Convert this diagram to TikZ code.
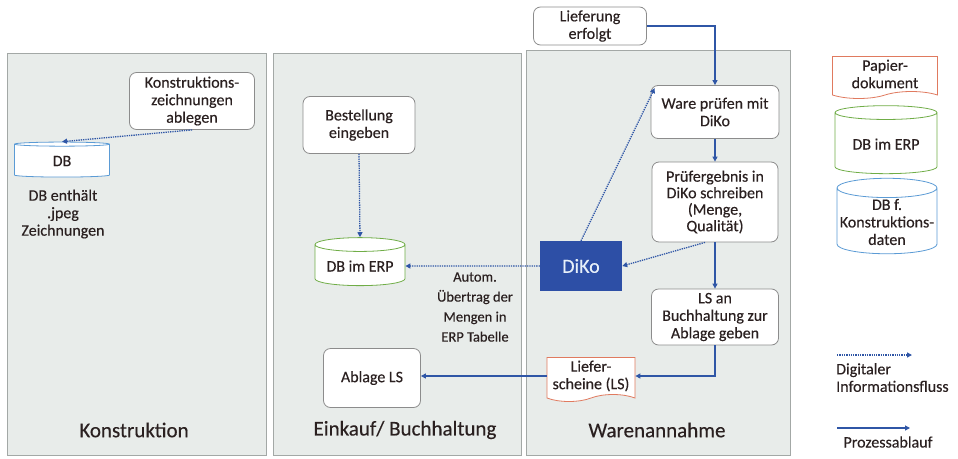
\documentclass[tikz,border=0pt]{standalone}
\usepackage{fontspec}
\setmainfont{Carlito}[FakeBold=0.3]
\usetikzlibrary{shapes.geometric,shapes.symbols,arrows.meta}
\definecolor{txt}{HTML}{2A2020}
\definecolor{flow}{HTML}{2F56A6}
\definecolor{dikoblue}{HTML}{2D4FA6}
\definecolor{panelfill}{HTML}{E8ECEA}
\definecolor{panelline}{HTML}{A3A8A6}
\definecolor{boxline}{HTML}{8C8C8C}
\definecolor{dbblue}{HTML}{5B9BD5}
\definecolor{dbgreen}{HTML}{70AD47}
\definecolor{paperred}{HTML}{E07A5F}
\begin{document}
\begin{tikzpicture}[x=1pt,y=-1pt,
    every node/.style={text=txt,font=\fontsize{16}{17.5}\selectfont},
    panel/.style={fill=panelfill,draw=panelline,line width=0.8pt},
    panellabel/.style={font=\fontsize{21}{23}\selectfont},
    box/.style={draw=boxline,fill=white,rounded corners=7pt,align=center,inner sep=2pt,line width=0.8pt},
    db/.style={cylinder,shape border rotate=90,aspect=0.2,fill=white,align=center,inner sep=1pt,line width=0.8pt},
    paper/.style={tape,tape bend top=none,tape bend height=7pt,draw=paperred,fill=white,align=center,inner sep=1pt,line width=0.8pt},
    process/.style={draw=flow,line width=1.1pt,-{Triangle[width=5pt,length=5pt]}},
    digital/.style={draw=flow,line width=1.3pt,densely dotted,-{Triangle[width=5pt,length=5pt]}}]
    \useasboundingbox (0,0) rectangle (958,458);

    % Spalten
    \draw[panel] (7,53) rectangle (266,455);
    \draw[panel] (273,53) rectangle (521,455);
    \draw[panel] (526,50) rectangle (790,455);
    \node[panellabel] (lkon) at (134,430) {Konstruktion};
    \node[panellabel] (lein) at (405,430) {Einkauf/ Buchhaltung};
    \node[panellabel] (lwar) at (657,430) {Warenannahme};

    % Konstruktion
    \node[box,minimum width=125pt,minimum height=57pt] (konst) at (192,101) {Konstruktions-\\zeichnungen\\ablegen};
    \node[db,draw=dbblue,minimum width=95pt,minimum height=35pt] (dbk) at (62,161) {DB};
    \node[align=center] (dbtxt) at (63,214) {DB enthält\\.jpeg\\Zeichnungen};

    % Einkauf / Buchhaltung
    \node[box,minimum width=112pt,minimum height=57pt] (best) at (359,125) {Bestellung\\eingeben};
    \node[db,draw=dbgreen,minimum width=90pt,minimum height=48pt] (erp) at (360,266) {DB im ERP};
    \node[align=center,font=\fontsize{14.5}{20}\selectfont] (autom) at (475,307) {Autom.\\Übertrag der\\Mengen in\\ERP Tabelle};
    \node[box,minimum width=97pt,minimum height=59pt] (ablage) at (372,378) {Ablage LS};

    % Warenannahme
    \node[box,minimum width=113pt,minimum height=38pt] (lief) at (590,26) {Lieferung\\erfolgt};
    \node[box,minimum width=128pt,minimum height=53pt] (ware) at (715,112) {Ware prüfen mit\\DiKo};
    \node[box,minimum width=126pt,minimum height=80pt,font=\fontsize{16}{16.5}\selectfont] (pruef) at (715,202) {Prüfergebnis in\\DiKo schreiben\\(Menge,\\Qualität)};
    \node[fill=dikoblue,minimum width=82pt,minimum height=50pt,text=white!85!dbblue,font=\fontsize{20}{22}\selectfont] (diko) at (581,266) {DiKo};
    \node[box,minimum width=127pt,minimum height=56pt] (lsan) at (715,317) {LS an\\Buchhaltung zur\\Ablage geben};
    \node[paper,minimum width=88pt,minimum height=44pt] (lsch) at (591,376) {Liefer-\\scheine (LS)};

    % Legende
    \node[paper,minimum width=105pt,minimum height=42pt] (lpap) at (885,74) {Papier-\\dokument};
    \node[db,draw=dbgreen,minimum width=102pt,minimum height=68pt] (lerp) at (886,144) {DB im ERP};
    \node[db,draw=dbblue,minimum width=100pt,minimum height=62pt] (lkd) at (887,222) {DB f.\\Konstruktions-\\daten};
    \coordinate (dg1) at (837,355);
    \coordinate (dg2) at (912,355);
    \coordinate (pr1) at (837,428);
    \coordinate (pr2) at (910,428);
    \draw[digital] (dg1) -- (dg2);
    \draw[process] (pr1) -- (pr2);
    \node[align=left,anchor=north west,inner sep=0pt] (ldig) at (836,363) {Digitaler\\Informationsfluss};
    \node (lpro) at (888,442) {Prozessablauf};

    % Verbindungen
    \draw[digital] (konst.south) -- (dbk.north);
    \draw[digital] (best.south) -- (erp.north);
    \draw[digital] (diko.west) -- (erp.east);
    \draw[digital] ([xshift=-10pt]pruef.south) -- (diko.east);
    \draw[digital] (diko.north) -- ([xshift=4pt,yshift=-3pt]ware.north west);
    \draw[process] (lief.east) -| (ware.north);
    \draw[process] (ware.south) -- (pruef.north);
    \draw[process] (pruef.south) -- (lsan.north);
    \draw[process] (lsan.south) |- (lsch.east);
    \draw[process] (lsch.west) -- (lsch.west -| ablage.east);
\end{tikzpicture}
\end{document}
